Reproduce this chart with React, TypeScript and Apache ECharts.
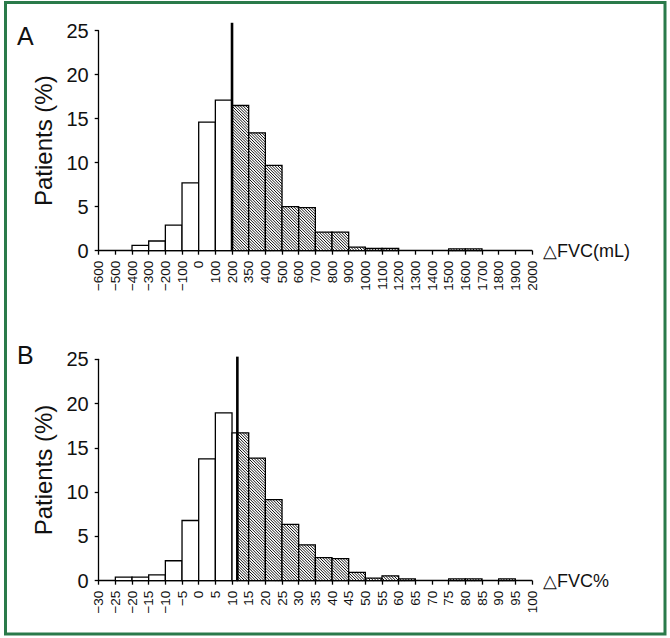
import React, { useEffect, useRef } from "react";
import * as echarts from "echarts";

// ---------- data ----------
const ticksA = ["−600","−500","−400","−300","−200","−100","0","100","200","350","400","500","600","700","800","900","1000","1100","1200","1300","1400","1500","1600","1700","1800","1900","2000"];
const valuesA = [0,0,0.6,1.1,2.9,7.7,14.6,17.1,16.5,13.4,9.7,5.0,4.9,2.1,2.1,0.4,0.25,0.25,0,0,0,0.2,0.2,0,0,0];
const cutTickA = 8; // tick index of 200 mL
const lineTopA = 25.9;

const ticksB = ["−30","−25","−20","−15","−10","−5","0","5","10","15","20","25","30","35","40","45","50","55","60","65","70","75","80","85","90","95","100"];
const valuesB = [0,0.4,0.4,0.65,2.25,6.8,13.75,18.95,16.7,13.85,9.15,6.35,4.05,2.6,2.5,0.95,0.3,0.55,0.2,0,0,0.2,0.2,0,0.2,0];
const cutoffB = 11.6; // % units
const ticksBStart = -30;
const ticksBStep = 5;
const lineTopB = 25.3;

const yTicks = [0, 5, 10, 15, 20, 25];

const FONT = "'Liberation Sans', Arial, Helvetica, sans-serif";

function buildRows(values: number[], cut: number) {
  const rows: number[][] = [];
  values.forEach((v, i) => {
    const x0 = i, x1 = i + 1;
    if (cut > x0 && cut < x1) {
      rows.push([x0, cut, v, 0]);
      rows.push([cut, x1, v, 1]);
    } else {
      rows.push([x0, x1, v, x0 >= cut ? 1 : 0]);
    }
  });
  return rows;
}

function renderBar(params: any, api: any) {
  const x0 = api.value(0), x1 = api.value(1), v = api.value(2), h = api.value(3);
  if (!(v > 0)) return null;
  const p0 = api.coord([x0, v]);
  const p1 = api.coord([x1, 0]);
  const left = p0[0], top = p0[1], right = p1[0], bottom = p1[1];
  const shape = { x: left, y: top, width: right - left, height: bottom - top };
  const children: any[] = [
    { type: "rect", shape, style: { fill: "#fff", stroke: null } },
  ];
  if (h) {
    const step = 2.8;
    const cStart = left - bottom;
    const cEnd = right - top;
    for (let c = Math.ceil(cStart / step) * step; c <= cEnd; c += step) {
      const xs = Math.max(left, top + c);
      const xe = Math.min(right, bottom + c);
      if (xe > xs) {
        children.push({
          type: "line",
          shape: { x1: xs, y1: xs - c, x2: xe, y2: xe - c },
          style: { stroke: "#111", lineWidth: 1 },
        });
      }
    }
  }
  children.push({ type: "rect", shape, style: { fill: "none", stroke: "#000", lineWidth: 1.3 } });
  return { type: "group", children };
}

function renderCut(params: any, api: any) {
  const x = api.value(0), t = api.value(1);
  const a = api.coord([x, 0]);
  const b = api.coord([x, t]);
  return {
    type: "line",
    shape: { x1: a[0], y1: a[1], x2: b[0], y2: b[1] },
    style: { stroke: "#000", lineWidth: 2.6 },
  };
}

export default function App() {
  const ref = useRef<HTMLDivElement>(null);
  useEffect(() => {
    if (!ref.current) return;
    const chart = echarts.init(ref.current, undefined, { renderer: "svg" });
    const cutIdxB = (cutoffB - ticksBStart) / ticksBStep;
    const rowsA = buildRows(valuesA, cutTickA);
    const rowsB = buildRows(valuesB, cutIdxB);

    const xAxisBase = (ticks: string[], name: string, gridIndex: number) => ({
      type: "value",
      gridIndex,
      min: 0,
      max: ticks.length - 1,
      interval: 1,
      name,
      nameLocation: "end",
      nameGap: 11,
      nameTextStyle: { fontFamily: FONT, fontSize: 18, color: "#111", verticalAlign: "middle" },
      axisLine: { show: true, onZero: false, lineStyle: { color: "#000", width: 1.3 } },
      axisTick: { show: true, length: 4, lineStyle: { color: "#000", width: 1.3 } },
      splitLine: { show: false },
      axisLabel: {
        rotate: 90,
        margin: 10,
        fontFamily: FONT,
        fontSize: 13.5,
        color: "#111",
        showMinLabel: true,
        showMaxLabel: true,
        formatter: (v: number) => ticks[Math.round(v)] ?? "",
      },
    });
    const yAxisBase = (gridIndex: number) => ({
      type: "value",
      gridIndex,
      min: yTicks[0],
      max: yTicks[yTicks.length - 1],
      interval: yTicks[1] - yTicks[0],
      name: "Patients (%)",
      nameLocation: "middle",
      nameRotate: 90,
      nameGap: 42,
      nameTextStyle: { fontFamily: FONT, fontSize: 24, color: "#111" },
      axisLine: { show: true, lineStyle: { color: "#000", width: 1.3 } },
      axisTick: { show: true, length: 4, lineStyle: { color: "#000", width: 1.3 } },
      splitLine: { show: false },
      axisLabel: { fontFamily: FONT, fontSize: 20, color: "#111", margin: 10 },
    });

    chart.setOption({
      animation: false,
      backgroundColor: "#fff",
      grid: [
        { left: 98.7, top: 30.7, width: 433.3, height: 220 },
        { left: 98.7, top: 359.3, width: 433.3, height: 221.4 },
      ],
      xAxis: [xAxisBase(ticksA, "△FVC(mL)", 0), xAxisBase(ticksB, "△FVC%", 1)],
      yAxis: [yAxisBase(0), yAxisBase(1)],
      graphic: [
        {
          type: "rect",
          shape: { x: 5.5, y: 2.5, width: 659.5, height: 631.5 },
          style: { fill: "none", stroke: "#2a7a4a", lineWidth: 3 },
          silent: true,
        },
        { type: "text", left: 17, top: 23, style: { text: "A", fontFamily: FONT, fontSize: 25, fill: "#111" } },
        { type: "text", left: 17, top: 342, style: { text: "B", fontFamily: FONT, fontSize: 25, fill: "#111" } },
      ],
      series: [
        {
          type: "custom", xAxisIndex: 0, yAxisIndex: 0, data: rowsA, renderItem: renderBar,
          encode: { x: [0, 1], y: 2 }, silent: true, clip: false,
        },
        {
          type: "custom", xAxisIndex: 0, yAxisIndex: 0, data: [[cutTickA, lineTopA]], renderItem: renderCut,
          encode: { x: 0, y: 1 }, silent: true, clip: false,
        },
        {
          type: "custom", xAxisIndex: 1, yAxisIndex: 1, data: rowsB, renderItem: renderBar,
          encode: { x: [0, 1], y: 2 }, silent: true, clip: false,
        },
        {
          type: "custom", xAxisIndex: 1, yAxisIndex: 1, data: [[cutIdxB, lineTopB]], renderItem: renderCut,
          encode: { x: 0, y: 1 }, silent: true, clip: false,
        },
      ],
    });
    return () => chart.dispose();
  }, []);
  return <div ref={ref} style={{ position: "fixed", left: 0, top: 0, width: 670, height: 638 }} />;
}
